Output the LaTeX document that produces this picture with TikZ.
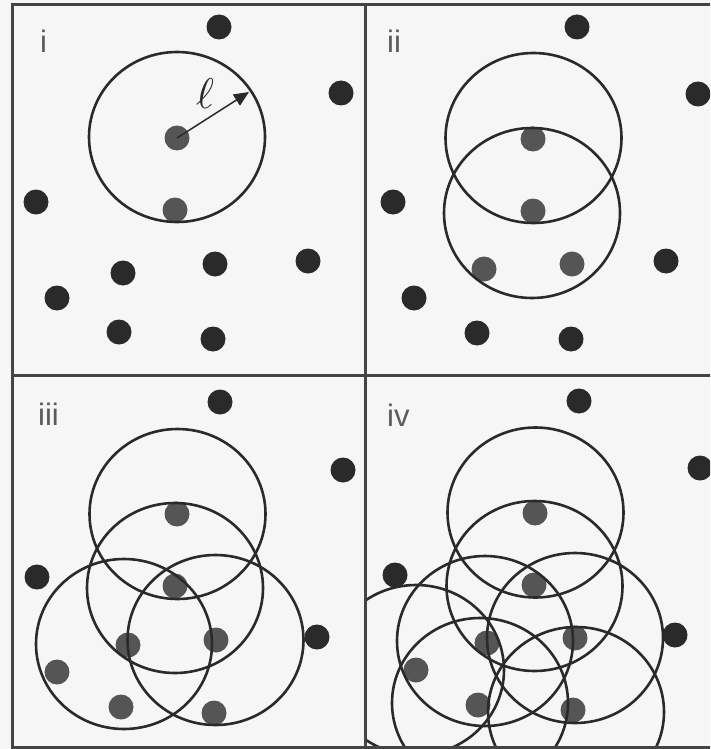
\documentclass[tikz,border=0pt]{standalone}
\usepackage{fontspec}
\setmainfont{Liberation Sans}
\usetikzlibrary{arrows.meta}
\definecolor{bg}{HTML}{F6F6F6}
\definecolor{ink}{HTML}{2A2A2A}
\definecolor{greydot}{HTML}{555555}
\definecolor{frame}{HTML}{444444}
\definecolor{lab}{HTML}{5A5A5A}
\tikzset{
  bdot/.style={circle,fill=ink,draw=none,inner sep=0pt,minimum size=25pt},
  gdot/.style={circle,fill=greydot,draw=none,inner sep=0pt,minimum size=25pt},
  ring/.style={draw=ink,line width=2.6pt},
  framing/.style={draw=frame,line width=3pt},
  panellab/.style={anchor=base west,inner sep=0pt,text=lab,font=\fontsize{31}{31}\selectfont},
}
\newcommand{\rng}[1]{\draw[ring] (#1) ellipse [x radius=88pt, y radius=85pt];}
\begin{document}
\begin{tikzpicture}[x=1pt,y=-1pt]
\useasboundingbox (0,0) rectangle (710,749);
\fill[bg] (0,0) rectangle (710,749);
\clip (0,0) rectangle (710,749);
% frame
\draw[framing] (12,5) rectangle (714,747);
\draw[framing] (365,5) -- (365,747);
\draw[framing] (12,375) -- (714,375);
% labels
\node[panellab] (li) at (40,53) {i};
\node[panellab] (lii) at (387,53) {ii};
\node[panellab] (liii) at (38,425) {iii};
\node[panellab] (liv) at (387,426) {iv};
% ---------- panel i ----------
\node[bdot] (a1) at (219,27) {};
\node[bdot] (a2) at (341,93) {};
\node[bdot] (a3) at (36,202) {};
\node[bdot] (a4) at (123,273) {};
\node[bdot] (a5) at (215,264) {};
\node[bdot] (a6) at (308,261) {};
\node[bdot] (a7) at (57,298) {};
\node[bdot] (a8) at (119,332) {};
\node[bdot] (a9) at (213,339) {};
\node[gdot] (ag1) at (177,138) {};
\node[gdot] (ag2) at (175,210) {};
\rng{177,137}
\coordinate (atip) at (249,92);
\draw[ink,line width=1.5pt,-{Triangle[length=15pt,width=13pt]}] (ag1.center) -- (atip);
\node[inner sep=0pt,text=ink,scale=4.3] (ell) at (205,94) {$\ell$};
% ---------- panel ii ----------
\node[bdot] (b1) at (577,27) {};
\node[bdot] (b2) at (698,94) {};
\node[bdot] (b3) at (393,202) {};
\node[bdot] (b4) at (666,261) {};
\node[bdot] (b5) at (414,298) {};
\node[bdot] (b6) at (477,333) {};
\node[bdot] (b7) at (571,339) {};
\node[gdot] (bg1) at (533,139) {};
\node[gdot] (bg2) at (533,211) {};
\node[gdot] (bg3) at (484,269) {};
\node[gdot] (bg4) at (572,264) {};
\rng{533.5,138}
\rng{532,213}
% ---------- panel iii ----------
\node[bdot] (c1) at (220,402) {};
\node[bdot] (c2) at (343,470) {};
\node[bdot] (c3) at (37,577) {};
\node[bdot] (c4) at (317,637) {};
\node[gdot] (cg1) at (177,514) {};
\node[gdot] (cg2) at (175,586) {};
\node[gdot] (cg3) at (128,645) {};
\node[gdot] (cg4) at (216,640) {};
\node[gdot] (cg5) at (57,672) {};
\node[gdot] (cg6) at (121,707) {};
\node[gdot] (cg7) at (214,713) {};
\rng{177.5,514}
\rng{175,588}
\rng{124,644}
\rng{215.5,640}
% ---------- panel iv ----------
\node[bdot] (d1) at (579,401) {};
\node[bdot] (d2) at (700,468) {};
\node[bdot] (d3) at (395,575) {};
\node[bdot] (d4) at (675,635) {};
\node[gdot] (dg1) at (535,513) {};
\node[gdot] (dg2) at (534,585) {};
\node[gdot] (dg3) at (487,643) {};
\node[gdot] (dg4) at (575,638) {};
\node[gdot] (dg5) at (416,670) {};
\node[gdot] (dg6) at (478,705) {};
\node[gdot] (dg7) at (573,710) {};
\begin{scope}
\clip (366.5,376.5) rectangle (712,745.5);
\rng{535.5,512.5}
\rng{534.5,586}
\rng{485,641}
\rng{575,638}
\rng{416,670}
\rng{480,703}
\rng{576,712}
\end{scope}
\end{tikzpicture}
\end{document}
